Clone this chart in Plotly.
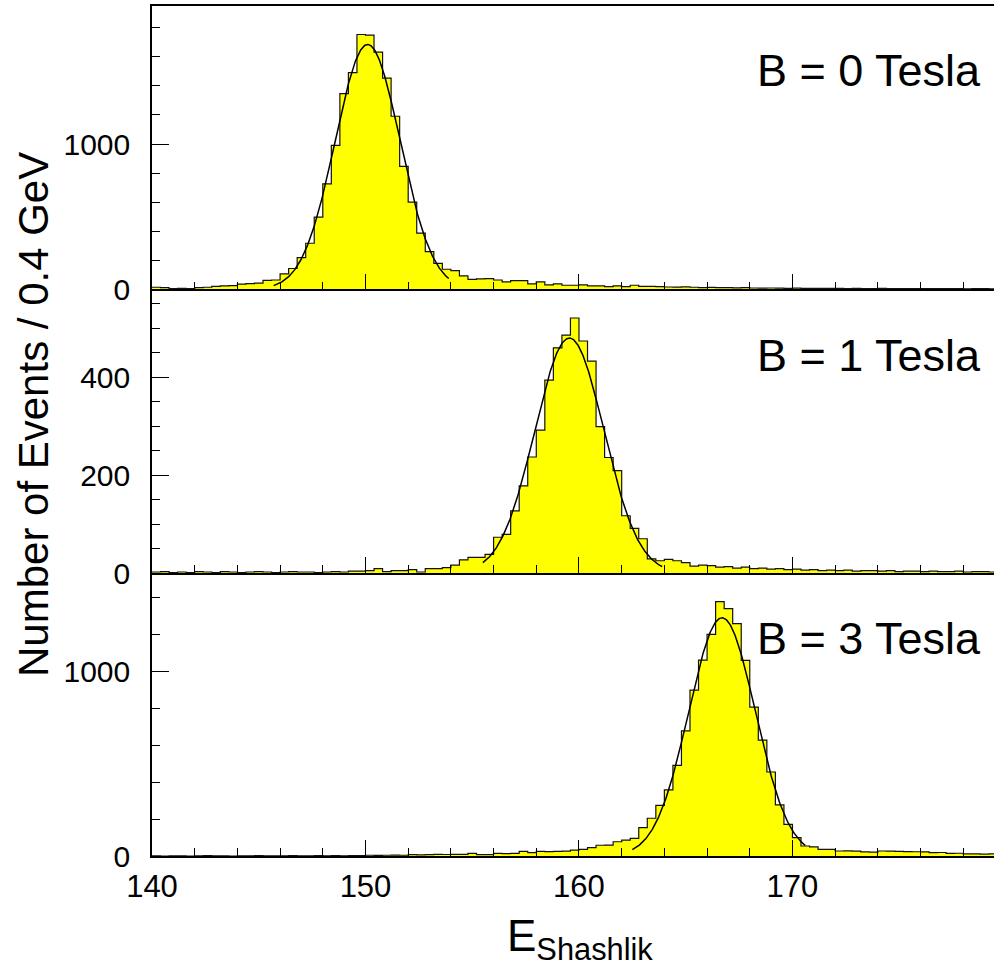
import numpy as np
import plotly.graph_objects as go

# ---------------- data ----------------
bin_width = 0.4
x_start = 140.0
n_bins = 100

counts_b0 = [14, 12, 5, 6, 5, 12, 14, 20, 23, 25,
             36, 39, 42, 62, 64, 106, 143, 218, 317, 497,
             726, 991, 1347, 1492, 1754, 1749, 1632, 1453, 1191, 846,
             600, 386, 260, 179, 138, 129, 92, 69, 72, 74,
             64, 51, 60, 60, 37, 51, 30, 37, 28, 28,
             30, 23, 23, 18, 23, 18, 28, 20, 20, 18,
             16, 15, 17, 14, 12, 13, 11, 12, 10, 11,
             9, 8, 9, 8, 7, 8, 7, 6, 7, 6,
             6, 5, 6, 5, 5, 6, 4, 5, 5, 4,
             5, 4, 4, 5, 4, 3, 4, 4, 3, 4]

counts_b1 = [2, 3, 1, 2, 1, 3, 2, 1, 3, 2,
             1, 2, 3, 2, 1, 2, 3, 2, 2, 1,
             2, 3, 2, 4, 4, 5, 9, 3, 5, 5,
             7, 2, 9, 9, 11, 16, 27, 32, 32, 38,
             73, 79, 127, 178, 237, 292, 394, 460, 486, 521,
             474, 433, 299, 236, 209, 117, 91, 70, 29, 25,
             28, 25, 21, 14, 16, 15, 12, 13, 10, 12,
             9, 10, 8, 9, 7, 8, 6, 7, 5, 6,
             5, 6, 4, 5, 5, 4, 5, 3, 4, 4,
             3, 4, 3, 3, 4, 2, 3, 3, 2, 3]

counts_b3 = [1, 0, 1, 1, 0, 1, 2, 1, 1, 0,
             1, 1, 2, 1, 1, 1, 2, 1, 1, 2,
             1, 2, 1, 2, 2, 4, 3, 4, 5, 4,
             7, 6, 7, 9, 8, 9, 9, 14, 7, 7,
             14, 13, 14, 25, 18, 25, 24, 25, 26, 32,
             36, 45, 58, 59, 77, 86, 95, 153, 204, 274,
             357, 490, 676, 897, 1059, 1198, 1375, 1337, 1256, 1058,
             805, 627, 454, 276, 171, 99, 54, 49, 36, 36,
             27, 28, 26, 22, 21, 27, 26, 25, 24, 23,
             22, 18, 19, 14, 15, 11, 12, 10, 11, 10]

# Gaussian fit parameters: amplitude, mean, sigma, fit range
fit_b0 = [1685, 150.10, 1.52, 145.7, 153.9]
fit_b1 = [480, 159.55, 1.62, 155.5, 163.9]
fit_b3 = [1288, 166.70, 1.56, 162.5, 170.6]

labels = ["B = 0 Tesla", "B = 1 Tesla", "B = 3 Tesla"]
y_ranges = [1950, 579.6, 1530]
y_major = [1000, 200, 1000]
y_minor = [200, 50, 200]
x_ticks = [140, 150, 160, 170]
x_max = 179.44

# ---------------- figure ----------------
W, H = 994, 970
FONT = "Liberation Sans, Arial, Helvetica, sans-serif"

edges = [x_start + bin_width * i for i in range(n_bins + 1)]

# pixel geometry of the three pads (top, bottom in px)
pads = [(6, 289.3), (289.3, 573), (573, 856)]
x_left_px = 152

fig = go.Figure()

all_counts = [counts_b0, counts_b1, counts_b3]
all_fits = [fit_b0, fit_b1, fit_b3]
label_y = [71, 355, 638]

for i in range(3):
    xa = "x" if i == 0 else f"x{i+1}"
    ya = "y" if i == 0 else f"y{i+1}"
    c = all_counts[i]
    fig.add_trace(go.Scatter(
        x=edges, y=c + [c[-1]], mode="lines", line_shape="hv",
        line=dict(color="#111111", width=1.2),
        fill="tozeroy", fillcolor="#ffff00",
        xaxis=xa, yaxis=ya, showlegend=False, hoverinfo="skip"))
    A, mu, sg, lo, hi = all_fits[i]
    xf = np.linspace(lo, hi, 300)
    yf = A * np.exp(-0.5 * ((xf - mu) / sg) ** 2)
    fig.add_trace(go.Scatter(
        x=xf, y=yf, mode="lines", line=dict(color="black", width=1.5),
        xaxis=xa, yaxis=ya, showlegend=False, hoverinfo="skip"))

layout = dict(
    width=W, height=H, margin=dict(l=0, r=0, t=0, b=0, autoexpand=False),
    paper_bgcolor="white", plot_bgcolor="white",
    font=dict(family=FONT, color="black"),
)

for i in range(3):
    top, bot = pads[i]
    dom = [(H - bot) / H, (H - top) / H]
    xkey = "xaxis" if i == 0 else f"xaxis{i+1}"
    ykey = "yaxis" if i == 0 else f"yaxis{i+1}"
    yanchor = "y" if i == 0 else f"y{i+1}"
    xanchor = "x" if i == 0 else f"x{i+1}"
    layout[xkey] = dict(
        domain=[x_left_px / W, 1], anchor=yanchor, range=[x_start, x_max],
        automargin=False,
        showgrid=False, zeroline=False, showline=True, linecolor="black",
        linewidth=1.5, mirror=(i == 0),
        ticks="inside", ticklen=16, tickwidth=1, tickcolor="black",
        tickmode="array", tickvals=x_ticks, ticktext=[str(v) for v in x_ticks],
        showticklabels=(i == 2), tickfont=dict(size=31, family=FONT),
        ticklabelstandoff=2,
        minor=dict(dtick=2, tick0=140, ticks="inside", ticklen=8,
                   tickcolor="black", tickwidth=1, showgrid=False),
    )
    if i > 0:
        layout[xkey]["matches"] = "x"
    layout[ykey] = dict(
        domain=dom, anchor=xanchor, range=[0, y_ranges[i]],
        automargin=False,
        showgrid=False, zeroline=False, showline=True, linecolor="black",
        linewidth=1.5,
        ticks="inside", ticklen=17, tickwidth=1, tickcolor="black",
        dtick=y_major[i], tick0=0,
        tickfont=dict(size=30, family=FONT), ticklabelstandoff=14,
        minor=dict(dtick=y_minor[i], tick0=0, ticks="inside", ticklen=8,
                   tickcolor="black", tickwidth=1, showgrid=False),
    )

annotations = []
for i in range(3):
    annotations.append(dict(
        text=labels[i], xref="paper", yref="paper",
        x=983 / W, y=(H - label_y[i]) / H, xanchor="right", yanchor="middle",
        showarrow=False, font=dict(size=45, family=FONT, color="black")))
annotations.append(dict(
    text="Number of Events / 0.4 GeV", xref="paper", yref="paper",
    x=33 / W, y=(H - 415) / H, xanchor="center", yanchor="middle",
    textangle=-90, showarrow=False, font=dict(size=42, family=FONT, color="black")))
annotations.append(dict(
    text="E<sub>Shashlik</sub>", xref="paper", yref="paper",
    x=580 / W, y=0.001, xanchor="center", yanchor="bottom",
    showarrow=False, font=dict(size=44, family=FONT, color="black")))
layout["annotations"] = annotations

fig.update_layout(**layout)
fig.write_html("out.html")
